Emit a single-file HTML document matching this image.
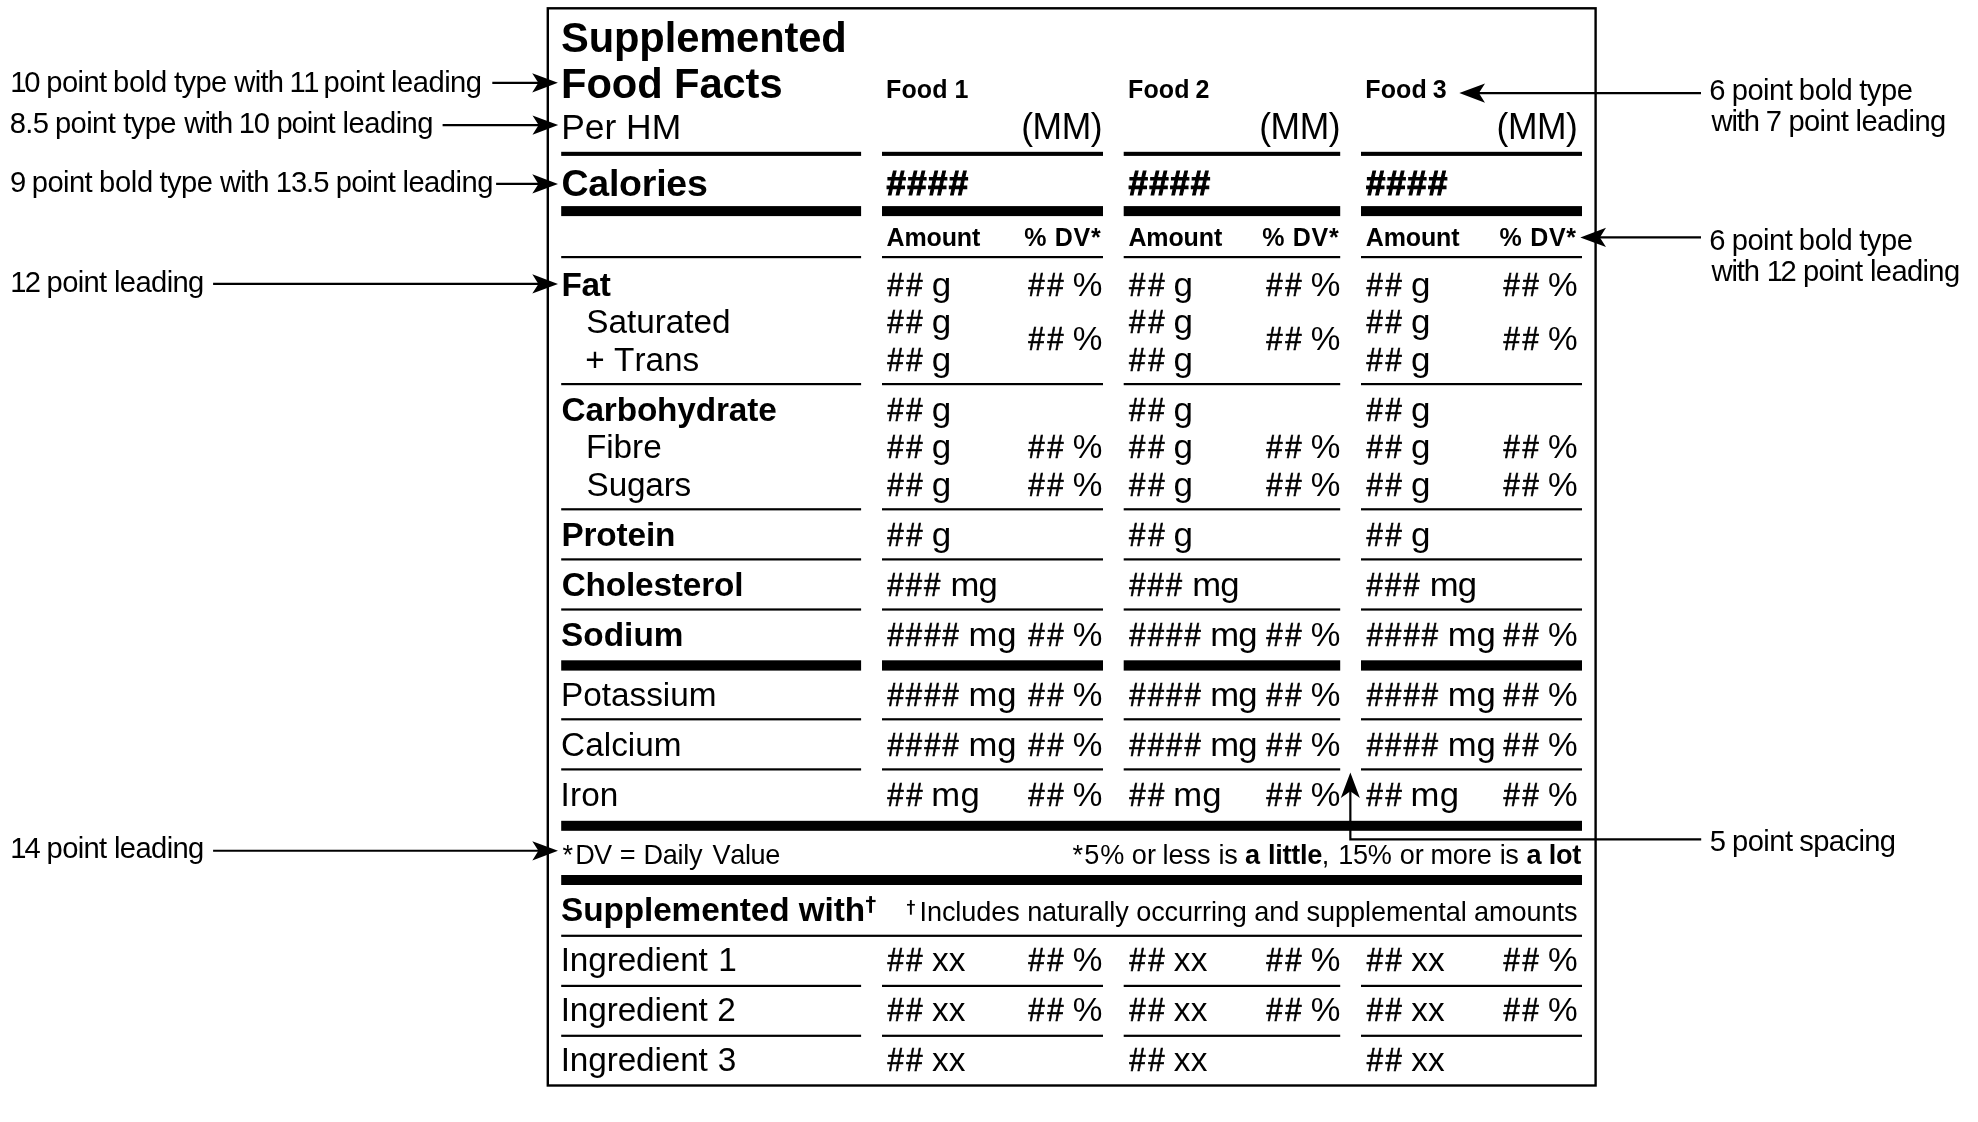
<!DOCTYPE html>
<html><head><meta charset="utf-8"><title>Supplemented Food Facts</title>
<style>
html,body{margin:0;padding:0;background:#fff;}
svg{display:block;font-family:"Liberation Sans",sans-serif;fill:#000;will-change:transform;}
.nk{font-kerning:none;}
</style></head>
<body>
<svg width="1978" height="1122" viewBox="0 0 1978 1122">
<rect x="0" y="0" width="1978" height="1122" fill="#fff"/>
<rect x="547.8" y="8.3" width="1047.8" height="1077.2" fill="none" stroke="#000" stroke-width="2.4"/>
<g>
<rect x="561.20" y="151.80" width="299.90" height="4.10"/>
<rect x="882.00" y="151.80" width="221.00" height="4.10"/>
<rect x="1123.70" y="151.80" width="216.50" height="4.10"/>
<rect x="1361.00" y="151.80" width="221.00" height="4.10"/>
<rect x="561.20" y="206.10" width="299.90" height="10.00"/>
<rect x="882.00" y="206.10" width="221.00" height="10.00"/>
<rect x="1123.70" y="206.10" width="216.50" height="10.00"/>
<rect x="1361.00" y="206.10" width="221.00" height="10.00"/>
<rect x="561.20" y="256.00" width="299.90" height="2.20"/>
<rect x="882.00" y="256.00" width="221.00" height="2.20"/>
<rect x="1123.70" y="256.00" width="216.50" height="2.20"/>
<rect x="1361.00" y="256.00" width="221.00" height="2.20"/>
<rect x="561.20" y="383.00" width="299.90" height="2.20"/>
<rect x="882.00" y="383.00" width="221.00" height="2.20"/>
<rect x="1123.70" y="383.00" width="216.50" height="2.20"/>
<rect x="1361.00" y="383.00" width="221.00" height="2.20"/>
<rect x="561.20" y="508.20" width="299.90" height="2.20"/>
<rect x="882.00" y="508.20" width="221.00" height="2.20"/>
<rect x="1123.70" y="508.20" width="216.50" height="2.20"/>
<rect x="1361.00" y="508.20" width="221.00" height="2.20"/>
<rect x="561.20" y="558.30" width="299.90" height="2.20"/>
<rect x="882.00" y="558.30" width="221.00" height="2.20"/>
<rect x="1123.70" y="558.30" width="216.50" height="2.20"/>
<rect x="1361.00" y="558.30" width="221.00" height="2.20"/>
<rect x="561.20" y="608.40" width="299.90" height="2.20"/>
<rect x="882.00" y="608.40" width="221.00" height="2.20"/>
<rect x="1123.70" y="608.40" width="216.50" height="2.20"/>
<rect x="1361.00" y="608.40" width="221.00" height="2.20"/>
<rect x="561.20" y="660.30" width="299.90" height="10.30"/>
<rect x="882.00" y="660.30" width="221.00" height="10.30"/>
<rect x="1123.70" y="660.30" width="216.50" height="10.30"/>
<rect x="1361.00" y="660.30" width="221.00" height="10.30"/>
<rect x="561.20" y="718.20" width="299.90" height="2.20"/>
<rect x="882.00" y="718.20" width="221.00" height="2.20"/>
<rect x="1123.70" y="718.20" width="216.50" height="2.20"/>
<rect x="1361.00" y="718.20" width="221.00" height="2.20"/>
<rect x="561.20" y="768.30" width="299.90" height="2.20"/>
<rect x="882.00" y="768.30" width="221.00" height="2.20"/>
<rect x="1123.70" y="768.30" width="216.50" height="2.20"/>
<rect x="1361.00" y="768.30" width="221.00" height="2.20"/>
<rect x="561.20" y="820.80" width="1020.80" height="10.00"/>
<rect x="561.20" y="875.00" width="1020.80" height="10.00"/>
<rect x="561.20" y="934.70" width="1020.80" height="2.20"/>
<rect x="561.20" y="984.80" width="299.90" height="2.20"/>
<rect x="882.00" y="984.80" width="221.00" height="2.20"/>
<rect x="1123.70" y="984.80" width="216.50" height="2.20"/>
<rect x="1361.00" y="984.80" width="221.00" height="2.20"/>
<rect x="561.20" y="1034.70" width="299.90" height="2.20"/>
<rect x="882.00" y="1034.70" width="221.00" height="2.20"/>
<rect x="1123.70" y="1034.70" width="216.50" height="2.20"/>
<rect x="1361.00" y="1034.70" width="221.00" height="2.20"/>
<rect x="869.20" y="896.10" width="2.80" height="16.75"/>
<rect x="866.00" y="899.90" width="9.60" height="2.20"/>
<rect x="909.90" y="900.10" width="1.90" height="14.60"/>
<rect x="907.00" y="903.95" width="7.90" height="1.65"/>
</g>
<g>
<path d="M492.3 81.80H542.9V83.90H492.3Z"/>
<path d="M557.9 82.85L532.2 73.25L538.3 82.85L532.2 92.45Z"/>
<path d="M442.6 124.05H543.2V126.15H442.6Z"/>
<path d="M558.2 125.10L532.5 115.50L538.6 125.10L532.5 134.70Z"/>
<path d="M496.1 182.85H543.0V184.95H496.1Z"/>
<path d="M558.0 183.90L532.3 174.30L538.4 183.90L532.3 193.50Z"/>
<path d="M213.1 282.85H543.0V284.95H213.1Z"/>
<path d="M558.0 283.90L532.3 274.30L538.4 283.90L532.3 293.50Z"/>
<path d="M213.1 849.75H543.0V851.85H213.1Z"/>
<path d="M558.0 850.80L532.3 841.20L538.4 850.80L532.3 860.40Z"/>
<path d="M1701.0 92.05H1474.3V94.15H1701.0Z"/>
<path d="M1459.3 93.10L1485.0 83.50L1478.9 93.10L1485.0 102.70Z"/>
<path d="M1701.0 236.35H1595.3V238.45H1701.0Z"/>
<path d="M1580.3 237.40L1606.0 227.80L1599.9 237.40L1606.0 247.00Z"/>
<path d="M1701.2 840.55H1349.25V785H1351.45V838.35H1701.2Z"/>
<path d="M1350.35 772.6L1340.8 798.0L1350.35 791.3L1359.9 798.0Z"/>
</g>
<g>
<text x="561.00" y="51.80" font-size="41.67" class="nk" font-weight="bold" letter-spacing="-0.111">Supplemented</text>
<text x="561.01" y="97.80" font-size="41.67" class="nk" font-weight="bold" letter-spacing="-0.070">Food Facts</text>
<text x="561.19" y="138.70" font-size="35.42" class="nk" letter-spacing="-0.004">Per HM</text>
<text x="561.46" y="195.50" font-size="37.50" class="nk" font-weight="bold" letter-spacing="-0.230">Calories</text>
<text x="561.47" y="295.85" font-size="33.33" class="nk" font-weight="bold" letter-spacing="-0.282">Fat</text>
<text x="586.19" y="333.30" font-size="33.33" class="nk" letter-spacing="-0.023">Saturated</text>
<text x="585.37" y="370.80" font-size="33.33" class="nk" letter-spacing="-0.017">+ Trans</text>
<text x="561.53" y="420.70" font-size="33.33" class="nk" font-weight="bold" letter-spacing="-0.137">Carbohydrate</text>
<text x="585.97" y="458.10" font-size="33.33" class="nk" letter-spacing="-0.057">Fibre</text>
<text x="586.59" y="495.60" font-size="33.33" class="nk" letter-spacing="-0.179">Sugars</text>
<text x="561.47" y="545.80" font-size="33.33" class="nk" font-weight="bold" letter-spacing="-0.155">Protein</text>
<text x="561.63" y="595.70" font-size="33.33" class="nk" font-weight="bold" letter-spacing="-0.154">Cholesterol</text>
<text x="561.04" y="645.60" font-size="33.33" class="nk" font-weight="bold" letter-spacing="0.042">Sodium</text>
<text x="560.97" y="705.80" font-size="33.33" class="nk">Potassium</text>
<text x="561.11" y="755.70" font-size="33.33" class="nk" letter-spacing="0.016">Calcium</text>
<text x="560.62" y="805.80" font-size="33.33" class="nk" letter-spacing="0.101">Iron</text>
<text y="970.90" font-size="33.33" class="nk"><tspan x="560.72" letter-spacing="-0.126">Ingredient </tspan><tspan x="718.13" letter-spacing="0.000">1</tspan></text>
<text y="1020.90" font-size="33.33" class="nk"><tspan x="560.72" letter-spacing="-0.126">Ingredient </tspan><tspan x="717.32" letter-spacing="0.000">2</tspan></text>
<text y="1070.70" font-size="33.33" class="nk"><tspan x="560.72" letter-spacing="-0.126">Ingredient </tspan><tspan x="717.73" letter-spacing="0.000">3</tspan></text>
<text y="97.85" font-size="25.00" font-weight="bold" class="nk"><tspan x="886.03" letter-spacing="0.112">Food </tspan><tspan x="954.41" letter-spacing="0.000">1</tspan></text>
<text transform="translate(1021.30 138.70) scale(1.0 1.04)" font-size="35.42" class="nk" letter-spacing="-0.467">(MM)</text>
<text transform="translate(886.60 195.20) scale(0.93 0.945)" font-size="37.50" class="nk" font-weight="bold" letter-spacing="1.425" stroke="#000" stroke-width="1.2" stroke-linejoin="miter">####</text>
<text x="886.48" y="246.00" font-size="25.00" class="nk" font-weight="bold" letter-spacing="-0.119">Amount</text>
<text x="1024.28" y="246.00" font-size="25.00" class="nk" font-weight="bold" letter-spacing="0.704">% DV*</text>
<text transform="translate(887.22 295.85) scale(0.88 0.975)" font-size="33.33" class="nk" letter-spacing="3.119" stroke="#000" stroke-width="0.7" stroke-linejoin="miter">##</text>
<text transform="translate(931.63 295.85) scale(1.05 1)" font-size="33.33" class="nk">g</text>
<text transform="translate(887.22 333.30) scale(0.88 0.975)" font-size="33.33" class="nk" letter-spacing="3.119" stroke="#000" stroke-width="0.7" stroke-linejoin="miter">##</text>
<text transform="translate(931.63 333.30) scale(1.05 1)" font-size="33.33" class="nk">g</text>
<text transform="translate(887.22 370.80) scale(0.88 0.975)" font-size="33.33" class="nk" letter-spacing="3.119" stroke="#000" stroke-width="0.7" stroke-linejoin="miter">##</text>
<text transform="translate(931.63 370.80) scale(1.05 1)" font-size="33.33" class="nk">g</text>
<text transform="translate(887.22 420.70) scale(0.88 0.975)" font-size="33.33" class="nk" letter-spacing="3.119" stroke="#000" stroke-width="0.7" stroke-linejoin="miter">##</text>
<text transform="translate(931.63 420.70) scale(1.05 1)" font-size="33.33" class="nk">g</text>
<text transform="translate(887.22 458.10) scale(0.88 0.975)" font-size="33.33" class="nk" letter-spacing="3.119" stroke="#000" stroke-width="0.7" stroke-linejoin="miter">##</text>
<text transform="translate(931.63 458.10) scale(1.05 1)" font-size="33.33" class="nk">g</text>
<text transform="translate(887.22 495.60) scale(0.88 0.975)" font-size="33.33" class="nk" letter-spacing="3.119" stroke="#000" stroke-width="0.7" stroke-linejoin="miter">##</text>
<text transform="translate(931.63 495.60) scale(1.05 1)" font-size="33.33" class="nk">g</text>
<text transform="translate(887.22 545.80) scale(0.88 0.975)" font-size="33.33" class="nk" letter-spacing="3.119" stroke="#000" stroke-width="0.7" stroke-linejoin="miter">##</text>
<text transform="translate(931.63 545.80) scale(1.05 1)" font-size="33.33" class="nk">g</text>
<text transform="translate(887.32 595.70) scale(0.88 0.975)" font-size="33.33" class="nk" letter-spacing="2.290" stroke="#000" stroke-width="0.7" stroke-linejoin="miter">###</text>
<text transform="translate(950.40 595.70) scale(1.04 1)" font-size="33.33" class="nk" letter-spacing="-0.790">mg</text>
<text transform="translate(887.42 645.60) scale(0.88 0.975)" font-size="33.33" class="nk" letter-spacing="2.355" stroke="#000" stroke-width="0.7" stroke-linejoin="miter">####</text>
<text transform="translate(968.40 645.60) scale(1.04 1)" font-size="33.33" class="nk" letter-spacing="-0.020">mg</text>
<text transform="translate(887.42 705.80) scale(0.88 0.975)" font-size="33.33" class="nk" letter-spacing="2.355" stroke="#000" stroke-width="0.7" stroke-linejoin="miter">####</text>
<text transform="translate(968.40 705.80) scale(1.04 1)" font-size="33.33" class="nk" letter-spacing="-0.020">mg</text>
<text transform="translate(887.42 755.70) scale(0.88 0.975)" font-size="33.33" class="nk" letter-spacing="2.355" stroke="#000" stroke-width="0.7" stroke-linejoin="miter">####</text>
<text transform="translate(968.40 755.70) scale(1.04 1)" font-size="33.33" class="nk" letter-spacing="-0.020">mg</text>
<text transform="translate(887.32 805.80) scale(0.88 0.975)" font-size="33.33" class="nk" letter-spacing="2.892" stroke="#000" stroke-width="0.7" stroke-linejoin="miter">##</text>
<text transform="translate(931.30 805.80) scale(1.04 1)" font-size="33.33" class="nk" letter-spacing="0.268">mg</text>
<text transform="translate(887.42 970.90) scale(0.88 0.975)" font-size="33.33" class="nk" letter-spacing="2.892" stroke="#000" stroke-width="0.7" stroke-linejoin="miter">##</text>
<text x="931.93" y="970.90" font-size="33.33" class="nk" letter-spacing="0.199">xx</text>
<text transform="translate(887.42 1020.90) scale(0.88 0.975)" font-size="33.33" class="nk" letter-spacing="2.892" stroke="#000" stroke-width="0.7" stroke-linejoin="miter">##</text>
<text x="931.93" y="1020.90" font-size="33.33" class="nk" letter-spacing="0.199">xx</text>
<text transform="translate(887.42 1070.70) scale(0.88 0.975)" font-size="33.33" class="nk" letter-spacing="2.892" stroke="#000" stroke-width="0.7" stroke-linejoin="miter">##</text>
<text x="931.93" y="1070.70" font-size="33.33" class="nk" letter-spacing="0.199">xx</text>
<text transform="translate(1028.22 295.85) scale(0.88 0.975)" font-size="33.33" class="nk" letter-spacing="3.119" stroke="#000" stroke-width="0.7" stroke-linejoin="miter">##</text>
<text x="1072.71" y="295.85" font-size="33.33" class="nk">%</text>
<text transform="translate(1028.22 349.70) scale(0.88 0.975)" font-size="33.33" class="nk" letter-spacing="3.119" stroke="#000" stroke-width="0.7" stroke-linejoin="miter">##</text>
<text x="1072.71" y="349.70" font-size="33.33" class="nk">%</text>
<text transform="translate(1028.22 458.10) scale(0.88 0.975)" font-size="33.33" class="nk" letter-spacing="3.119" stroke="#000" stroke-width="0.7" stroke-linejoin="miter">##</text>
<text x="1072.71" y="458.10" font-size="33.33" class="nk">%</text>
<text transform="translate(1028.22 495.60) scale(0.88 0.975)" font-size="33.33" class="nk" letter-spacing="3.119" stroke="#000" stroke-width="0.7" stroke-linejoin="miter">##</text>
<text x="1072.71" y="495.60" font-size="33.33" class="nk">%</text>
<text transform="translate(1028.22 645.60) scale(0.88 0.975)" font-size="33.33" class="nk" letter-spacing="3.119" stroke="#000" stroke-width="0.7" stroke-linejoin="miter">##</text>
<text x="1072.71" y="645.60" font-size="33.33" class="nk">%</text>
<text transform="translate(1028.22 705.80) scale(0.88 0.975)" font-size="33.33" class="nk" letter-spacing="3.119" stroke="#000" stroke-width="0.7" stroke-linejoin="miter">##</text>
<text x="1072.71" y="705.80" font-size="33.33" class="nk">%</text>
<text transform="translate(1028.22 755.70) scale(0.88 0.975)" font-size="33.33" class="nk" letter-spacing="3.119" stroke="#000" stroke-width="0.7" stroke-linejoin="miter">##</text>
<text x="1072.71" y="755.70" font-size="33.33" class="nk">%</text>
<text transform="translate(1028.22 805.80) scale(0.88 0.975)" font-size="33.33" class="nk" letter-spacing="3.119" stroke="#000" stroke-width="0.7" stroke-linejoin="miter">##</text>
<text x="1072.71" y="805.80" font-size="33.33" class="nk">%</text>
<text transform="translate(1028.22 970.90) scale(0.88 0.975)" font-size="33.33" class="nk" letter-spacing="3.119" stroke="#000" stroke-width="0.7" stroke-linejoin="miter">##</text>
<text x="1072.71" y="970.90" font-size="33.33" class="nk">%</text>
<text transform="translate(1028.22 1020.90) scale(0.88 0.975)" font-size="33.33" class="nk" letter-spacing="3.119" stroke="#000" stroke-width="0.7" stroke-linejoin="miter">##</text>
<text x="1072.71" y="1020.90" font-size="33.33" class="nk">%</text>
<text y="97.85" font-size="25.00" font-weight="bold" class="nk"><tspan x="1128.03" letter-spacing="0.112">Food </tspan><tspan x="1195.53" letter-spacing="0.000">2</tspan></text>
<text transform="translate(1259.30 138.70) scale(1.0 1.04)" font-size="35.42" class="nk" letter-spacing="-0.467">(MM)</text>
<text transform="translate(1128.50 195.20) scale(0.93 0.945)" font-size="37.50" class="nk" font-weight="bold" letter-spacing="1.425" stroke="#000" stroke-width="1.2" stroke-linejoin="miter">####</text>
<text x="1128.38" y="246.00" font-size="25.00" class="nk" font-weight="bold" letter-spacing="-0.119">Amount</text>
<text x="1262.28" y="246.00" font-size="25.00" class="nk" font-weight="bold" letter-spacing="0.704">% DV*</text>
<text transform="translate(1129.12 295.85) scale(0.88 0.975)" font-size="33.33" class="nk" letter-spacing="3.119" stroke="#000" stroke-width="0.7" stroke-linejoin="miter">##</text>
<text transform="translate(1173.53 295.85) scale(1.05 1)" font-size="33.33" class="nk">g</text>
<text transform="translate(1129.12 333.30) scale(0.88 0.975)" font-size="33.33" class="nk" letter-spacing="3.119" stroke="#000" stroke-width="0.7" stroke-linejoin="miter">##</text>
<text transform="translate(1173.53 333.30) scale(1.05 1)" font-size="33.33" class="nk">g</text>
<text transform="translate(1129.12 370.80) scale(0.88 0.975)" font-size="33.33" class="nk" letter-spacing="3.119" stroke="#000" stroke-width="0.7" stroke-linejoin="miter">##</text>
<text transform="translate(1173.53 370.80) scale(1.05 1)" font-size="33.33" class="nk">g</text>
<text transform="translate(1129.12 420.70) scale(0.88 0.975)" font-size="33.33" class="nk" letter-spacing="3.119" stroke="#000" stroke-width="0.7" stroke-linejoin="miter">##</text>
<text transform="translate(1173.53 420.70) scale(1.05 1)" font-size="33.33" class="nk">g</text>
<text transform="translate(1129.12 458.10) scale(0.88 0.975)" font-size="33.33" class="nk" letter-spacing="3.119" stroke="#000" stroke-width="0.7" stroke-linejoin="miter">##</text>
<text transform="translate(1173.53 458.10) scale(1.05 1)" font-size="33.33" class="nk">g</text>
<text transform="translate(1129.12 495.60) scale(0.88 0.975)" font-size="33.33" class="nk" letter-spacing="3.119" stroke="#000" stroke-width="0.7" stroke-linejoin="miter">##</text>
<text transform="translate(1173.53 495.60) scale(1.05 1)" font-size="33.33" class="nk">g</text>
<text transform="translate(1129.12 545.80) scale(0.88 0.975)" font-size="33.33" class="nk" letter-spacing="3.119" stroke="#000" stroke-width="0.7" stroke-linejoin="miter">##</text>
<text transform="translate(1173.53 545.80) scale(1.05 1)" font-size="33.33" class="nk">g</text>
<text transform="translate(1129.22 595.70) scale(0.88 0.975)" font-size="33.33" class="nk" letter-spacing="2.290" stroke="#000" stroke-width="0.7" stroke-linejoin="miter">###</text>
<text transform="translate(1192.30 595.70) scale(1.04 1)" font-size="33.33" class="nk" letter-spacing="-0.790">mg</text>
<text transform="translate(1129.32 645.60) scale(0.88 0.975)" font-size="33.33" class="nk" letter-spacing="2.355" stroke="#000" stroke-width="0.7" stroke-linejoin="miter">####</text>
<text transform="translate(1210.30 645.60) scale(1.04 1)" font-size="33.33" class="nk" letter-spacing="-0.982">mg</text>
<text transform="translate(1129.32 705.80) scale(0.88 0.975)" font-size="33.33" class="nk" letter-spacing="2.355" stroke="#000" stroke-width="0.7" stroke-linejoin="miter">####</text>
<text transform="translate(1210.30 705.80) scale(1.04 1)" font-size="33.33" class="nk" letter-spacing="-0.982">mg</text>
<text transform="translate(1129.32 755.70) scale(0.88 0.975)" font-size="33.33" class="nk" letter-spacing="2.355" stroke="#000" stroke-width="0.7" stroke-linejoin="miter">####</text>
<text transform="translate(1210.30 755.70) scale(1.04 1)" font-size="33.33" class="nk" letter-spacing="-0.982">mg</text>
<text transform="translate(1129.22 805.80) scale(0.88 0.975)" font-size="33.33" class="nk" letter-spacing="2.892" stroke="#000" stroke-width="0.7" stroke-linejoin="miter">##</text>
<text transform="translate(1173.20 805.80) scale(1.04 1)" font-size="33.33" class="nk" letter-spacing="0.268">mg</text>
<text transform="translate(1129.32 970.90) scale(0.88 0.975)" font-size="33.33" class="nk" letter-spacing="2.892" stroke="#000" stroke-width="0.7" stroke-linejoin="miter">##</text>
<text x="1173.83" y="970.90" font-size="33.33" class="nk" letter-spacing="0.199">xx</text>
<text transform="translate(1129.32 1020.90) scale(0.88 0.975)" font-size="33.33" class="nk" letter-spacing="2.892" stroke="#000" stroke-width="0.7" stroke-linejoin="miter">##</text>
<text x="1173.83" y="1020.90" font-size="33.33" class="nk" letter-spacing="0.199">xx</text>
<text transform="translate(1129.32 1070.70) scale(0.88 0.975)" font-size="33.33" class="nk" letter-spacing="2.892" stroke="#000" stroke-width="0.7" stroke-linejoin="miter">##</text>
<text x="1173.83" y="1070.70" font-size="33.33" class="nk" letter-spacing="0.199">xx</text>
<text transform="translate(1266.22 295.85) scale(0.88 0.975)" font-size="33.33" class="nk" letter-spacing="3.119" stroke="#000" stroke-width="0.7" stroke-linejoin="miter">##</text>
<text x="1310.71" y="295.85" font-size="33.33" class="nk">%</text>
<text transform="translate(1266.22 349.70) scale(0.88 0.975)" font-size="33.33" class="nk" letter-spacing="3.119" stroke="#000" stroke-width="0.7" stroke-linejoin="miter">##</text>
<text x="1310.71" y="349.70" font-size="33.33" class="nk">%</text>
<text transform="translate(1266.22 458.10) scale(0.88 0.975)" font-size="33.33" class="nk" letter-spacing="3.119" stroke="#000" stroke-width="0.7" stroke-linejoin="miter">##</text>
<text x="1310.71" y="458.10" font-size="33.33" class="nk">%</text>
<text transform="translate(1266.22 495.60) scale(0.88 0.975)" font-size="33.33" class="nk" letter-spacing="3.119" stroke="#000" stroke-width="0.7" stroke-linejoin="miter">##</text>
<text x="1310.71" y="495.60" font-size="33.33" class="nk">%</text>
<text transform="translate(1266.22 645.60) scale(0.88 0.975)" font-size="33.33" class="nk" letter-spacing="3.119" stroke="#000" stroke-width="0.7" stroke-linejoin="miter">##</text>
<text x="1310.71" y="645.60" font-size="33.33" class="nk">%</text>
<text transform="translate(1266.22 705.80) scale(0.88 0.975)" font-size="33.33" class="nk" letter-spacing="3.119" stroke="#000" stroke-width="0.7" stroke-linejoin="miter">##</text>
<text x="1310.71" y="705.80" font-size="33.33" class="nk">%</text>
<text transform="translate(1266.22 755.70) scale(0.88 0.975)" font-size="33.33" class="nk" letter-spacing="3.119" stroke="#000" stroke-width="0.7" stroke-linejoin="miter">##</text>
<text x="1310.71" y="755.70" font-size="33.33" class="nk">%</text>
<text transform="translate(1266.22 805.80) scale(0.88 0.975)" font-size="33.33" class="nk" letter-spacing="3.119" stroke="#000" stroke-width="0.7" stroke-linejoin="miter">##</text>
<text x="1310.71" y="805.80" font-size="33.33" class="nk">%</text>
<text transform="translate(1266.22 970.90) scale(0.88 0.975)" font-size="33.33" class="nk" letter-spacing="3.119" stroke="#000" stroke-width="0.7" stroke-linejoin="miter">##</text>
<text x="1310.71" y="970.90" font-size="33.33" class="nk">%</text>
<text transform="translate(1266.22 1020.90) scale(0.88 0.975)" font-size="33.33" class="nk" letter-spacing="3.119" stroke="#000" stroke-width="0.7" stroke-linejoin="miter">##</text>
<text x="1310.71" y="1020.90" font-size="33.33" class="nk">%</text>
<text y="97.85" font-size="25.00" font-weight="bold" class="nk"><tspan x="1365.33" letter-spacing="0.112">Food </tspan><tspan x="1432.73" letter-spacing="0.000">3</tspan></text>
<text transform="translate(1496.60 138.70) scale(1.0 1.04)" font-size="35.42" class="nk" letter-spacing="-0.467">(MM)</text>
<text transform="translate(1365.90 195.20) scale(0.93 0.945)" font-size="37.50" class="nk" font-weight="bold" letter-spacing="1.425" stroke="#000" stroke-width="1.2" stroke-linejoin="miter">####</text>
<text x="1365.78" y="246.00" font-size="25.00" class="nk" font-weight="bold" letter-spacing="-0.119">Amount</text>
<text x="1499.58" y="246.00" font-size="25.00" class="nk" font-weight="bold" letter-spacing="0.704">% DV*</text>
<text transform="translate(1366.52 295.85) scale(0.88 0.975)" font-size="33.33" class="nk" letter-spacing="3.119" stroke="#000" stroke-width="0.7" stroke-linejoin="miter">##</text>
<text transform="translate(1410.93 295.85) scale(1.05 1)" font-size="33.33" class="nk">g</text>
<text transform="translate(1366.52 333.30) scale(0.88 0.975)" font-size="33.33" class="nk" letter-spacing="3.119" stroke="#000" stroke-width="0.7" stroke-linejoin="miter">##</text>
<text transform="translate(1410.93 333.30) scale(1.05 1)" font-size="33.33" class="nk">g</text>
<text transform="translate(1366.52 370.80) scale(0.88 0.975)" font-size="33.33" class="nk" letter-spacing="3.119" stroke="#000" stroke-width="0.7" stroke-linejoin="miter">##</text>
<text transform="translate(1410.93 370.80) scale(1.05 1)" font-size="33.33" class="nk">g</text>
<text transform="translate(1366.52 420.70) scale(0.88 0.975)" font-size="33.33" class="nk" letter-spacing="3.119" stroke="#000" stroke-width="0.7" stroke-linejoin="miter">##</text>
<text transform="translate(1410.93 420.70) scale(1.05 1)" font-size="33.33" class="nk">g</text>
<text transform="translate(1366.52 458.10) scale(0.88 0.975)" font-size="33.33" class="nk" letter-spacing="3.119" stroke="#000" stroke-width="0.7" stroke-linejoin="miter">##</text>
<text transform="translate(1410.93 458.10) scale(1.05 1)" font-size="33.33" class="nk">g</text>
<text transform="translate(1366.52 495.60) scale(0.88 0.975)" font-size="33.33" class="nk" letter-spacing="3.119" stroke="#000" stroke-width="0.7" stroke-linejoin="miter">##</text>
<text transform="translate(1410.93 495.60) scale(1.05 1)" font-size="33.33" class="nk">g</text>
<text transform="translate(1366.52 545.80) scale(0.88 0.975)" font-size="33.33" class="nk" letter-spacing="3.119" stroke="#000" stroke-width="0.7" stroke-linejoin="miter">##</text>
<text transform="translate(1410.93 545.80) scale(1.05 1)" font-size="33.33" class="nk">g</text>
<text transform="translate(1366.62 595.70) scale(0.88 0.975)" font-size="33.33" class="nk" letter-spacing="2.290" stroke="#000" stroke-width="0.7" stroke-linejoin="miter">###</text>
<text transform="translate(1429.70 595.70) scale(1.04 1)" font-size="33.33" class="nk" letter-spacing="-0.790">mg</text>
<text transform="translate(1366.72 645.60) scale(0.88 0.975)" font-size="33.33" class="nk" letter-spacing="2.355" stroke="#000" stroke-width="0.7" stroke-linejoin="miter">####</text>
<text transform="translate(1447.70 645.60) scale(1.04 1)" font-size="33.33" class="nk" letter-spacing="-0.020">mg</text>
<text transform="translate(1366.72 705.80) scale(0.88 0.975)" font-size="33.33" class="nk" letter-spacing="2.355" stroke="#000" stroke-width="0.7" stroke-linejoin="miter">####</text>
<text transform="translate(1447.70 705.80) scale(1.04 1)" font-size="33.33" class="nk" letter-spacing="-0.020">mg</text>
<text transform="translate(1366.72 755.70) scale(0.88 0.975)" font-size="33.33" class="nk" letter-spacing="2.355" stroke="#000" stroke-width="0.7" stroke-linejoin="miter">####</text>
<text transform="translate(1447.70 755.70) scale(1.04 1)" font-size="33.33" class="nk" letter-spacing="-0.020">mg</text>
<text transform="translate(1366.62 805.80) scale(0.88 0.975)" font-size="33.33" class="nk" letter-spacing="2.892" stroke="#000" stroke-width="0.7" stroke-linejoin="miter">##</text>
<text transform="translate(1410.60 805.80) scale(1.04 1)" font-size="33.33" class="nk" letter-spacing="0.268">mg</text>
<text transform="translate(1366.72 970.90) scale(0.88 0.975)" font-size="33.33" class="nk" letter-spacing="2.892" stroke="#000" stroke-width="0.7" stroke-linejoin="miter">##</text>
<text x="1411.23" y="970.90" font-size="33.33" class="nk" letter-spacing="0.199">xx</text>
<text transform="translate(1366.72 1020.90) scale(0.88 0.975)" font-size="33.33" class="nk" letter-spacing="2.892" stroke="#000" stroke-width="0.7" stroke-linejoin="miter">##</text>
<text x="1411.23" y="1020.90" font-size="33.33" class="nk" letter-spacing="0.199">xx</text>
<text transform="translate(1366.72 1070.70) scale(0.88 0.975)" font-size="33.33" class="nk" letter-spacing="2.892" stroke="#000" stroke-width="0.7" stroke-linejoin="miter">##</text>
<text x="1411.23" y="1070.70" font-size="33.33" class="nk" letter-spacing="0.199">xx</text>
<text transform="translate(1503.52 295.85) scale(0.88 0.975)" font-size="33.33" class="nk" letter-spacing="3.119" stroke="#000" stroke-width="0.7" stroke-linejoin="miter">##</text>
<text x="1548.01" y="295.85" font-size="33.33" class="nk">%</text>
<text transform="translate(1503.52 349.70) scale(0.88 0.975)" font-size="33.33" class="nk" letter-spacing="3.119" stroke="#000" stroke-width="0.7" stroke-linejoin="miter">##</text>
<text x="1548.01" y="349.70" font-size="33.33" class="nk">%</text>
<text transform="translate(1503.52 458.10) scale(0.88 0.975)" font-size="33.33" class="nk" letter-spacing="3.119" stroke="#000" stroke-width="0.7" stroke-linejoin="miter">##</text>
<text x="1548.01" y="458.10" font-size="33.33" class="nk">%</text>
<text transform="translate(1503.52 495.60) scale(0.88 0.975)" font-size="33.33" class="nk" letter-spacing="3.119" stroke="#000" stroke-width="0.7" stroke-linejoin="miter">##</text>
<text x="1548.01" y="495.60" font-size="33.33" class="nk">%</text>
<text transform="translate(1503.52 645.60) scale(0.88 0.975)" font-size="33.33" class="nk" letter-spacing="3.119" stroke="#000" stroke-width="0.7" stroke-linejoin="miter">##</text>
<text x="1548.01" y="645.60" font-size="33.33" class="nk">%</text>
<text transform="translate(1503.52 705.80) scale(0.88 0.975)" font-size="33.33" class="nk" letter-spacing="3.119" stroke="#000" stroke-width="0.7" stroke-linejoin="miter">##</text>
<text x="1548.01" y="705.80" font-size="33.33" class="nk">%</text>
<text transform="translate(1503.52 755.70) scale(0.88 0.975)" font-size="33.33" class="nk" letter-spacing="3.119" stroke="#000" stroke-width="0.7" stroke-linejoin="miter">##</text>
<text x="1548.01" y="755.70" font-size="33.33" class="nk">%</text>
<text transform="translate(1503.52 805.80) scale(0.88 0.975)" font-size="33.33" class="nk" letter-spacing="3.119" stroke="#000" stroke-width="0.7" stroke-linejoin="miter">##</text>
<text x="1548.01" y="805.80" font-size="33.33" class="nk">%</text>
<text transform="translate(1503.52 970.90) scale(0.88 0.975)" font-size="33.33" class="nk" letter-spacing="3.119" stroke="#000" stroke-width="0.7" stroke-linejoin="miter">##</text>
<text x="1548.01" y="970.90" font-size="33.33" class="nk">%</text>
<text transform="translate(1503.52 1020.90) scale(0.88 0.975)" font-size="33.33" class="nk" letter-spacing="3.119" stroke="#000" stroke-width="0.7" stroke-linejoin="miter">##</text>
<text x="1548.01" y="1020.90" font-size="33.33" class="nk">%</text>
<text y="863.70" font-size="27.08" class="nk"><tspan x="562.46" letter-spacing="0.000">*</tspan><tspan x="575.18" letter-spacing="-0.682">DV </tspan><tspan x="619.78" letter-spacing="0.000">= </tspan><tspan x="643.58" letter-spacing="-0.331">Daily </tspan><tspan x="712.58" letter-spacing="-0.387">Value</tspan></text>
<text y="863.70" font-size="27.08" class="nk"><tspan x="1072.56" letter-spacing="1.109">*5% </tspan><tspan x="1131.86" letter-spacing="0.005">or </tspan><tspan x="1162.58" letter-spacing="-0.086">less </tspan><tspan x="1218.59" letter-spacing="-0.368">is </tspan><tspan x="1245.11" letter-spacing="0.000" font-weight="bold">a </tspan><tspan x="1267.91" letter-spacing="-0.251" font-weight="bold">little</tspan><tspan x="1321.67" letter-spacing="0.000">, </tspan><tspan x="1338.14" letter-spacing="-0.189">15% </tspan><tspan x="1399.66" letter-spacing="0.005">or </tspan><tspan x="1430.40" letter-spacing="-0.101">more </tspan><tspan x="1499.69" letter-spacing="-0.368">is </tspan><tspan x="1526.41" letter-spacing="0.000" font-weight="bold">a </tspan><tspan x="1548.81" letter-spacing="-0.283" font-weight="bold">lot</tspan></text>
<text x="561.04" y="920.70" font-size="33.33" class="nk" font-weight="bold" letter-spacing="-0.090">Supplemented with</text>
<text x="919.50" y="920.70" font-size="27.08" class="nk" letter-spacing="-0.083">Includes naturally occurring and supplemental amounts</text>
<text y="91.90" font-size="29.17" class="nk"><tspan x="10.35" letter-spacing="-2.208">10 </tspan><tspan x="46.32" letter-spacing="-0.613">point </tspan><tspan x="113.12" letter-spacing="-0.361">bold </tspan><tspan x="173.96" letter-spacing="-0.597">type </tspan><tspan x="234.34" letter-spacing="-0.739">with </tspan><tspan x="289.55" letter-spacing="-2.442">11 </tspan><tspan x="323.62" letter-spacing="-0.488">point </tspan><tspan x="391.03" letter-spacing="-0.503">leading</tspan></text>
<text y="132.70" font-size="29.17" class="nk"><tspan x="9.63" letter-spacing="-0.577">8.5 </tspan><tspan x="55.02" letter-spacing="-0.613">point </tspan><tspan x="123.16" letter-spacing="-0.597">type </tspan><tspan x="184.34" letter-spacing="-1.005">with </tspan><tspan x="238.65" letter-spacing="-1.108">10 </tspan><tspan x="276.42" letter-spacing="-1.013">point </tspan><tspan x="342.53" letter-spacing="-0.503">leading</tspan></text>
<text y="191.50" font-size="29.17" class="nk"><tspan x="10.03" letter-spacing="0.000">9 </tspan><tspan x="31.82" letter-spacing="-0.588">point </tspan><tspan x="99.02" letter-spacing="-0.294">bold </tspan><tspan x="159.56" letter-spacing="-0.597">type </tspan><tspan x="219.94" letter-spacing="-0.739">with </tspan><tspan x="275.75" letter-spacing="-1.029">13.5 </tspan><tspan x="335.72" letter-spacing="-0.788">point </tspan><tspan x="402.43" letter-spacing="-0.503">leading</tspan></text>
<text y="291.90" font-size="29.17" class="nk"><tspan x="10.35" letter-spacing="-1.858">12 </tspan><tspan x="46.62" letter-spacing="-0.688">point </tspan><tspan x="114.03" letter-spacing="-0.620">leading</tspan></text>
<text y="857.90" font-size="29.17" class="nk"><tspan x="10.35" letter-spacing="-2.025">14 </tspan><tspan x="46.62" letter-spacing="-0.688">point </tspan><tspan x="114.03" letter-spacing="-0.620">leading</tspan></text>
<text y="99.60" font-size="29.17" class="nk"><tspan x="1709.32" letter-spacing="0.000">6 </tspan><tspan x="1731.82" letter-spacing="-0.563">point </tspan><tspan x="1798.82" letter-spacing="-0.394">bold </tspan><tspan x="1859.16" letter-spacing="-0.397">type</tspan></text>
<text y="130.50" font-size="29.17" class="nk"><tspan x="1711.54" letter-spacing="-1.139">with </tspan><tspan x="1765.70" letter-spacing="0.000">7 </tspan><tspan x="1788.62" letter-spacing="-0.738">point </tspan><tspan x="1855.43" letter-spacing="-0.520">leading</tspan></text>
<text y="249.65" font-size="29.17" class="nk"><tspan x="1709.32" letter-spacing="0.000">6 </tspan><tspan x="1731.82" letter-spacing="-0.563">point </tspan><tspan x="1798.82" letter-spacing="-0.394">bold </tspan><tspan x="1859.16" letter-spacing="-0.397">type</tspan></text>
<text y="280.50" font-size="29.17" class="nk"><tspan x="1711.54" letter-spacing="-1.139">with </tspan><tspan x="1766.80" letter-spacing="-2.608">12 </tspan><tspan x="1803.12" letter-spacing="-0.838">point </tspan><tspan x="1870.03" letter-spacing="-0.653">leading</tspan></text>
<text y="850.60" font-size="29.17" class="nk"><tspan x="1709.73" letter-spacing="0.000">5 </tspan><tspan x="1732.12" letter-spacing="-0.588">point </tspan><tspan x="1799.29" letter-spacing="-0.623">spacing</tspan></text>
</g>
</svg>
</body></html>
